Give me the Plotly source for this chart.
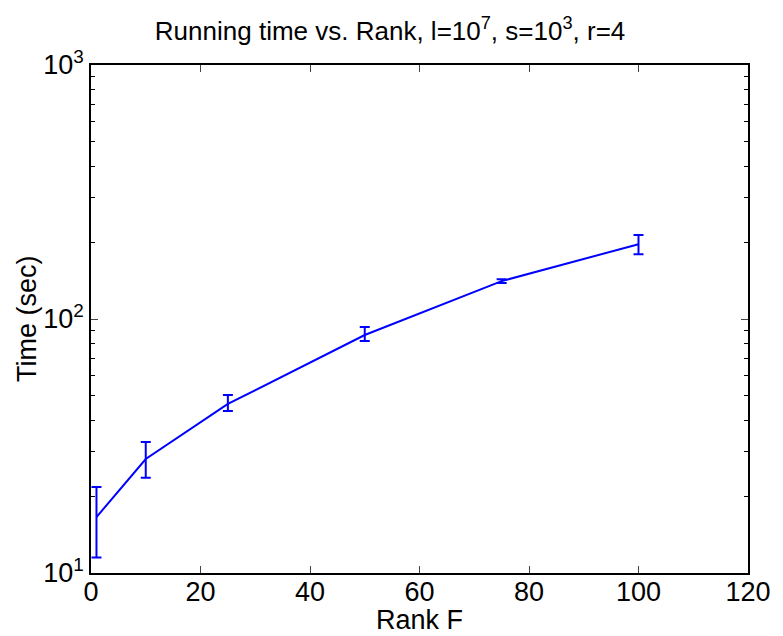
import plotly.graph_objects as go

rank = [1, 10, 25, 50, 75, 100]
time_mean = [16.6, 28.1, 46.3, 86.5, 141, 197]
err_plus = [5.2, 4.7, 3.9, 6.5, 2.5, 17]
err_minus = [5.1, 4.4, 2.9, 4.6, 2.5, 17]

xticks = [0, 20, 40, 60, 80, 100, 120]
yticks = [10, 100, 1000]
yticktext = ["10<sup>1</sup>", "10<sup>2</sup>", "10<sup>3</sup>"]

font = "Liberation Sans, Arial, Helvetica, sans-serif"

fig = go.Figure()
fig.add_trace(go.Scatter(
    x=rank, y=time_mean, mode="lines",
    line=dict(color="#0000ff", width=2),
    error_y=dict(type="data", array=err_plus, arrayminus=err_minus,
                 color="#0000ff", thickness=2, width=5, symmetric=False),
    showlegend=False,
))

# page body has an 8px margin; figure sized to compensate
fig.update_layout(
    width=775, height=628,
    margin=dict(l=83, r=28, t=57, b=63),
    paper_bgcolor="white", plot_bgcolor="white",
    font=dict(family=font, size=27, color="black"),
    title=dict(text="Running time vs. Rank, l=10<sup>7</sup>, s=10<sup>3</sup>, r=4",
               x=0.493, xanchor="center", xref="container", y=0.963, yanchor="middle",
               font=dict(size=26)),
    annotations=[
        dict(text="Rank F", xref="paper", yref="paper", x=0.5, y=0,
             xanchor="center", yanchor="middle", yshift=-47, showarrow=False,
             font=dict(size=27)),
        dict(text="Time (sec)", xref="paper", yref="paper", x=0, y=0.5,
             xanchor="center", yanchor="middle", xshift=-64, textangle=-90,
             showarrow=False, font=dict(size=27)),
    ],
)
fig.update_xaxes(
    range=[0, 120], tickvals=xticks, ticks="inside", ticklen=7,
    showline=True, linecolor="black", linewidth=1.5, mirror="ticks",
    showgrid=False, zeroline=False, ticklabelstandoff=-6,
    tickfont=dict(size=27),
)
fig.update_yaxes(
    type="log", range=[1, 3], tickvals=yticks, ticktext=yticktext,
    ticks="inside", ticklen=7,
    minor=dict(ticks="inside", ticklen=4, dtick="D1", showgrid=False, tickcolor="black"),
    showline=True, linecolor="black", linewidth=1.5, mirror="ticks",
    showgrid=False, zeroline=False,
    tickfont=dict(size=27),
)

fig.write_html("out.html")
